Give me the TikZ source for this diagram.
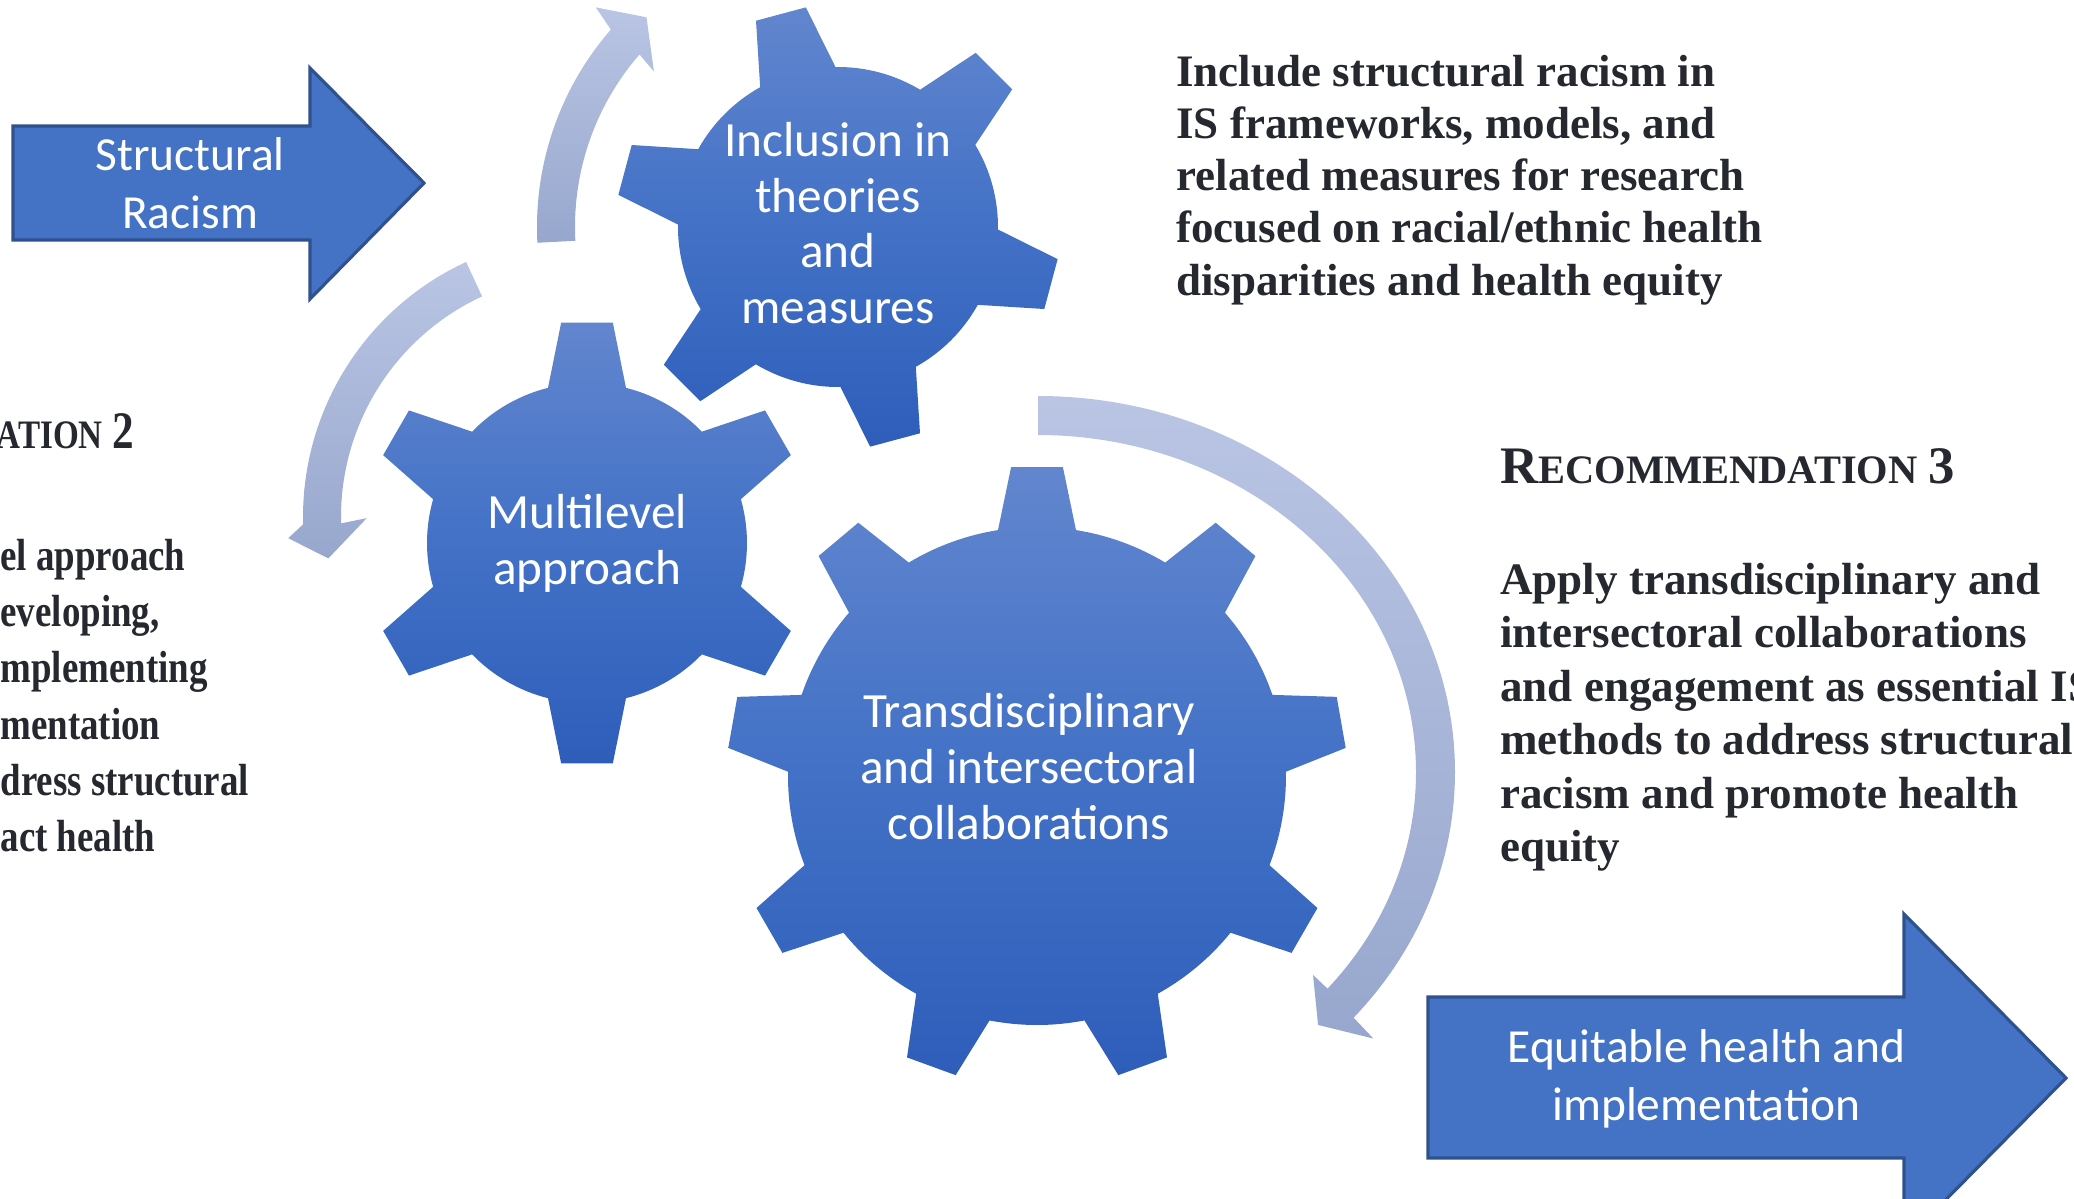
\documentclass[tikz,border=0pt]{standalone}
\usepackage{fontspec}
\setmainfont{Liberation Serif}
\newfontfamily\calibri{Carlito}
\definecolor{boxblue}{RGB}{68,114,196}
\definecolor{boxline}{RGB}{47,82,143}
\definecolor{gearTop}{RGB}{98,134,206}
\definecolor{gearMid}{RGB}{66,113,198}
\definecolor{gearBot}{RGB}{46,94,186}
\definecolor{cycTop}{RGB}{186,197,228}
\definecolor{cycBot}{RGB}{151,167,205}
\definecolor{inkgray}{RGB}{38,40,48}
\tikzset{
  bigarrow/.style={fill=boxblue, draw=boxline, line width=0.9pt, line join=miter},
  gearfill/.style={top color=gearTop, bottom color=gearBot, middle color=gearMid},
  cyclearrow/.style={top color=cycTop, bottom color=cycBot},
  geartext/.style={text=white, align=center, inner sep=0pt, font=\calibri\fontsize{14}{15.8}\selectfont},
  arrowtext/.style={text=white, align=center, inner sep=0pt, font=\calibri\fontsize{13.5}{16.3}\selectfont},
  rectext/.style={text=inkgray, align=left, inner sep=0pt, font=\bfseries\fontsize{12.8}{14.8}\selectfont},
}
\begin{document}
\begin{tikzpicture}[x=0.01cm, y=0.01cm, line join=round]
	\useasboundingbox (0,0) rectangle (2074,-1199);
	\clip (0,0) rectangle (2074,-1199);
	% gear: centre, teeth, first tooth angle, root radius, tip radius
	\def\gear#1#2#3#4#5{%
		\pgfmathsetmacro\gstep{360/#2}
		\pgfmathsetmacro\gdr{asin(39/#4)}
		\pgfmathsetmacro\gdt{atan(26/#5)}
		\pgfmathtruncatemacro\glast{#2-1}
		\shade[gearfill, shift={#1}] ({#3-\gdr}:#4)
		\foreach \k in {0,...,\glast}{
			-- ({#3+\k*\gstep-\gdt}:#5) -- ({#3+\k*\gstep+\gdt}:#5)
			-- ({#3+\k*\gstep+\gdr}:#4)
			arc[start angle={#3+\k*\gstep+\gdr}, end angle={#3+(\k+1)*\gstep-\gdr}, radius=#4]
		} -- cycle;
	}
	% circular arrows
	\shade[cyclearrow, shift={(838,-227)}] (183:301) arc[start angle=183, end angle=139, radius=301]
		-- (137.8:327) -- (132.4:284) -- (139.8:241) -- (139:263)
		arc[start angle=139, end angle=183, radius=263] -- cycle;
	\shade[cyclearrow, shift={(584,-517)}] (114.8:281) arc[start angle=114.8, end angle=181.5, radius=281]
		-- (184.1:296.5) -- (189.2:259) -- (180.3:217.3) -- (181.5:243)
		arc[start angle=181.5, end angle=114.8, radius=243] -- cycle;
	\shade[cyclearrow, shift={(1038,-772)}] (90:417 and 376) arc[start angle=90, end angle=-40.8, x radius=417, y radius=376]
		-- (-41.4:447 and 403) -- (-45.2:397.5 and 356.5) -- (-39.6:357 and 318.5) -- (-40:378 and 337)
		arc[start angle=-40, end angle=90, x radius=378, y radius=337] -- cycle;
	% gears
	\gear{(838,-227)}{6}{45}{160}{222}
	\gear{(587,-543)}{6}{30}{160}{222}
	\gear{(1037,-776)}{9}{10}{249}{310}
	% block arrows
	\draw[bigarrow] (13,-126) -- (310,-126) -- (310,-68) -- (424,-183) -- (310,-299) -- (310,-240) -- (13,-240) -- cycle;
	\draw[bigarrow] (1428,-997) -- (1904,-997) -- (1904,-914) -- (2066,-1078) -- (1904,-1242) -- (1904,-1158) -- (1428,-1158) -- cycle;
	% labels, anchored on the last baseline
	\node[arrowtext, anchor=base] (racism) at (190,-228) {Structural\\Racism};
	\node[arrowtext, anchor=base] (equity) at (1706.5,-1120) {Equitable health and\\implementation};
	\node[geartext, anchor=base] (theory) at (838,-323.3) {Inclusion in\\theories\\and\\measures};
	\node[geartext, anchor=base] (multi) at (587,-584) {Multilevel\\approach};
	\node[geartext, anchor=base] (collab) at (1029,-839) {Transdisciplinary\\and intersectoral\\collaborations};
	% recommendations
	\node[rectext, anchor=base west] (rec1) at (1175.7,-295) {Include structural racism in\\IS frameworks, models, and\\related measures for research\\focused on racial/ethnic health\\disparities and health equity};
	\node[rectext, anchor=base west] (rec3head) at (1499.7,-483.3) {{\fontsize{15}{15}\selectfont R}{\fontsize{11.5}{15}\selectfont ECOMMENDATION} {\fontsize{15}{15}\selectfont 3}};
	\node[rectext, anchor=base west, font=\bfseries\fontsize{12.8}{15.2}\selectfont] (rec3) at (1499.7,-861.7) {Apply transdisciplinary and\\intersectoral collaborations\\and engagement as essential IS\\methods to address structural\\racism and promote health\\equity};
	\node[rectext, anchor=base west, xscale=0.82, transform shape] (rec2head) at (-4,-448.3) {{\fontsize{11.5}{15}\selectfont ATION} {\fontsize{15}{15}\selectfont 2}};
	\node[rectext, anchor=base west, xscale=0.82, transform shape, font=\bfseries\fontsize{12.8}{16}\selectfont] (rec2) at (0,-851.7) {el approach\\eveloping,\\mplementing\\mentation\\dress structural\\act health};
\end{tikzpicture}
\end{document}
